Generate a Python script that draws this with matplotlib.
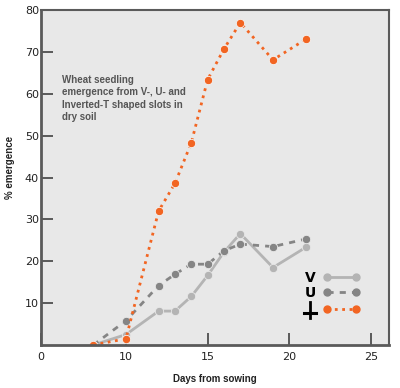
import matplotlib
matplotlib.use("Agg")
import matplotlib.pyplot as plt

# Days from sowing and % emergence for each slot shape
days = [8, 10, 12, 13, 14, 15, 16, 17, 19, 21]
v_slot = [0, 2.5, 8.1, 8.1, 11.6, 16.6, 22.2, 26.6, 18.5, 23.3]
u_slot = [0, 5.8, 14.2, 16.9, 19.3, 19.3, 22.5, 24.1, 23.5, 25.3]
t_slot = [0, 1.5, 32.0, 38.6, 48.3, 63.4, 70.7, 77.0, 68.1, 73.0]

x_ticks = [4.8, 10, 15, 20, 25]
x_tick_labels = ["0", "10", "15", "20", "25"]
y_ticks = [10, 20, 30, 40, 50, 60, 70, 80]

light_gray = "#b4b4b4"
dark_gray = "#858585"
orange = "#f26522"
frame = "#5a5a5a"
bold_font = ["Liberation Sans", "DejaVu Sans"]

fig = plt.figure(figsize=(4, 3.88), dpi=100)
ax = fig.add_axes([0.1025, 0.1108, 0.87, 0.8634])
ax.set_facecolor("#e8e8e8")

ax.plot(days, v_slot, "-o", color=light_gray, lw=2, ms=6, mec="#e8e8e8", mew=0.6)
ax.plot(days, u_slot, "--o", color=dark_gray, lw=2, ms=6, mec="#e8e8e8", mew=0.6,
        dashes=(2.2, 2.2))
ax.plot(days, t_slot, ":o", color=orange, lw=2, ms=6, mec="#f4f4f4", mew=0.6)

ax.set_xlim(4.8, 26.1)
ax.set_ylim(0, 80)
ax.set_xticks(x_ticks)
ax.set_xticklabels(x_tick_labels)
ax.set_yticks(y_ticks)
ax.tick_params(direction="in", length=8.6, width=1.4, color=frame, labelsize=8,
               labelcolor="#222222")
ax.tick_params(axis="y", pad=1.5)
ax.tick_params(axis="x", pad=5)
for s in ax.spines.values():
    s.set_color(frame)
    s.set_linewidth(1.5)
ax.spines["left"].set_linewidth(2)
ax.spines["bottom"].set_linewidth(2)

ax.set_xlabel("Days from sowing", family=bold_font, fontweight="bold", fontsize=7,
              color="#222222", labelpad=9)
ax.set_ylabel("% emergence", family=bold_font, fontweight="bold", fontsize=7,
              color="#222222")
ax.yaxis.set_label_coords(-0.075, 0.53)

ax.text(0.060, 0.806,
        "Wheat seedling\nemergence from V-, U- and\nInverted-T shaped slots in\ndry soil",
        transform=ax.transAxes, ha="left", va="top", family=bold_font,
        fontweight="bold", fontsize=7, color="#555555", linespacing=1.3)

# hand-made legend
lx = [0.821, 0.905]
ax.plot(lx, [0.202, 0.202], "-o", color=light_gray, lw=2, ms=5, transform=ax.transAxes)
ax.plot(lx, [0.157, 0.157], "--o", color=dark_gray, lw=2, ms=5, dashes=(2.2, 2.2),
        transform=ax.transAxes)
ax.plot(lx, [0.107, 0.107], ":o", color=orange, lw=2, ms=5, transform=ax.transAxes)
ax.text(0.773, 0.199, "V", transform=ax.transAxes, ha="center", va="center",
        fontsize=10, fontweight="bold", color="black")
ax.text(0.773, 0.155, "U", transform=ax.transAxes, ha="center", va="center",
        fontsize=10, fontweight="bold", color="black")
# inverted-T slot symbol
ax.plot([0.773, 0.773], [0.081, 0.129], color="black", lw=2, transform=ax.transAxes)
ax.plot([0.757, 0.791], [0.096, 0.096], color="black", lw=2.2, transform=ax.transAxes)

fig.savefig("out.png", dpi=100)
